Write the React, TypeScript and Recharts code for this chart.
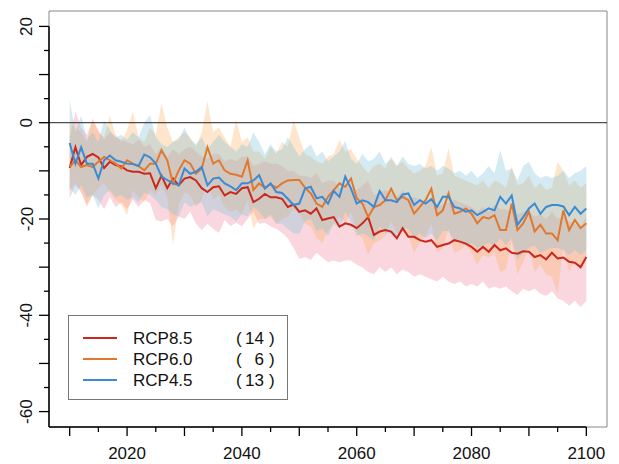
import React from 'react';
import { ComposedChart, Area, Line, XAxis, YAxis, ReferenceLine, ReferenceArea } from 'recharts';

const years = [
  2010, 2011, 2012, 2013, 2014, 2015, 2016, 2017, 2018, 2019,
  2020, 2021, 2022, 2023, 2024, 2025, 2026, 2027, 2028, 2029,
  2030, 2031, 2032, 2033, 2034, 2035, 2036, 2037, 2038, 2039,
  2040, 2041, 2042, 2043, 2044, 2045, 2046, 2047, 2048, 2049,
  2050, 2051, 2052, 2053, 2054, 2055, 2056, 2057, 2058, 2059,
  2060, 2061, 2062, 2063, 2064, 2065, 2066, 2067, 2068, 2069,
  2070, 2071, 2072, 2073, 2074, 2075, 2076, 2077, 2078, 2079,
  2080, 2081, 2082, 2083, 2084, 2085, 2086, 2087, 2088, 2089,
  2090, 2091, 2092, 2093, 2094, 2095, 2096, 2097, 2098, 2099,
  2100,
];

// RCP8.5
const rcp85Mean = [
  -9.4, -5.1, -8.8, -7.1, -6.5, -7.2, -9.4, -8.1, -8.8, -9.1,
  -9.9, -10.2, -10.2, -10.6, -10.5, -13.6, -11.0, -13.6, -11.6, -13.0,
  -11.6, -11.3, -12.0, -13.6, -14.4, -13.4, -13.2, -15.1, -14.4, -14.8,
  -13.6, -13.4, -16.5, -15.8, -14.8, -15.5, -15.5, -15.8, -17.5, -17.0,
  -18.5, -18.2, -18.9, -17.8, -20.2, -19.9, -19.6, -21.6, -20.9, -21.2,
  -21.9, -20.9, -19.6, -23.3, -22.6, -22.3, -22.6, -24.0, -21.9, -23.7,
  -23.7, -24.4, -24.7, -24.4, -25.8, -25.4, -25.1, -24.4, -24.7, -25.1,
  -25.8, -26.8, -25.8, -26.8, -25.4, -26.5, -26.1, -27.0, -27.2, -26.7,
  -26.8, -27.9, -27.5, -28.4, -27.0, -28.2, -28.0, -28.9, -29.1, -30.0,
  -27.9,
];
const rcp85High = [
  -3.0, 2.3, -1.0, -2.5, 0.5, -1.5, -3.5, -2.0, -3.0, -3.5,
  -4.0, -4.5, -3.5, -5.0, -4.5, -6.5, -5.0, -7.0, -5.5, -6.5,
  -5.5, -5.0, -6.0, -7.0, -7.5, -6.5, -6.5, -8.0, -7.5, -8.0,
  -7.0, -7.0, -9.0, -8.5, -8.0, -8.5, -8.5, -9.0, -10.0, -10.0,
  -11.0, -11.0, -11.5, -10.5, -12.5, -12.0, -12.0, -13.5, -13.0, -13.0,
  -14.0, -13.0, -12.0, -15.0, -14.5, -14.0, -14.5, -15.5, -14.0, -15.5,
  -15.5, -16.0, -16.5, -16.0, -17.5, -17.0, -16.5, -16.0, -16.5, -17.0,
  -17.5, -18.5, -17.5, -18.5, -17.0, -18.0, -18.0, -18.5, -19.0, -18.5,
  -18.5, -19.5, -19.0, -20.0, -18.5, -20.0, -19.5, -20.5, -21.0, -21.5,
  -19.5,
];
const rcp85Low = [
  -15.7, -13.0, -14.5, -17.0, -15.0, -16.0, -18.0, -15.5, -17.5, -16.5,
  -18.0, -16.0, -17.5, -16.0, -16.7, -20.2, -20.5, -20.0, -21.5, -19.5,
  -20.0, -18.5, -21.0, -22.3, -21.0, -22.0, -22.9, -20.2, -21.5, -20.8,
  -21.5, -20.0, -18.5, -21.0, -20.8, -21.5, -22.0, -22.9, -24.0, -26.0,
  -28.3, -27.9, -28.5, -27.0, -28.0, -29.0, -28.6, -29.0, -28.6, -28.6,
  -29.5, -30.0, -31.0, -31.5, -30.0, -31.0, -30.0, -31.5, -30.5, -31.0,
  -32.0, -31.5, -32.0, -32.5, -33.0, -32.0, -33.0, -33.5, -33.0, -34.0,
  -33.5, -34.0, -33.0, -34.5, -34.0, -34.5, -34.0, -35.0, -35.8, -34.5,
  -35.0, -34.5, -35.5, -36.0, -35.0, -36.5, -37.0, -38.0, -37.0, -38.3,
  -37.0,
];

// RCP6.0
const rcp60Mean = [
  -9.2, -7.8, -9.2, -8.8, -9.2, -8.1, -7.1, -7.8, -8.5, -9.5,
  -7.8, -8.5, -9.0, -9.9, -8.5, -8.5, -5.7, -7.8, -12.6, -9.9,
  -7.8, -8.5, -10.6, -9.5, -5.1, -8.5, -7.8, -9.9, -10.6, -10.8,
  -11.2, -7.8, -14.0, -12.6, -13.5, -12.8, -13.5, -12.6, -12.0, -11.9,
  -11.9, -13.5, -14.7, -16.8, -17.5, -15.4, -14.0, -12.6, -13.3, -11.6,
  -15.7, -16.8, -19.6, -17.5, -17.1, -16.1, -13.7, -16.1, -15.4, -16.1,
  -18.9, -17.5, -16.1, -13.7, -19.2, -18.2, -14.7, -18.9, -18.5, -17.8,
  -18.9, -20.9, -19.6, -19.9, -19.2, -22.3, -22.3, -16.8, -22.3, -20.9,
  -18.5, -22.6, -21.2, -23.0, -23.0, -24.4, -18.2, -22.3, -20.2, -21.9,
  -20.9,
];
const rcp60High = [
  0.0, -1.0, -2.0, -4.0, 1.0, -2.0, -3.0, 1.5, -2.5, -4.0,
  -1.5, 2.2, -3.0, -4.0, -1.0, -2.5, 4.0, -1.0, -4.0, -3.0,
  -2.0, -3.0, -5.0, -2.0, 4.4, -2.0, -1.0, -3.0, -5.0, 0.5,
  -4.0, -3.0, -6.0, -6.0, -7.5, -5.0, -6.5, -4.0, -5.0, 0.5,
  -3.0, -6.5, -7.0, -8.0, -8.5, -7.0, -6.5, -3.6, -6.0, -5.5,
  -7.5, -9.0, -10.5, -9.0, -8.5, -9.5, -7.0, -9.0, -8.0, -9.5,
  -10.5, -10.0, -9.0, -5.0, -11.0, -10.5, -5.3, -11.0, -11.5, -12.0,
  -12.5, -13.0, -12.0, -13.5, -12.0, -12.5, -13.5, -9.0, -13.0, -12.5,
  -11.0, -13.5, -12.5, -14.0, -13.5, -8.1, -10.0, -13.0, -12.0, -13.5,
  -12.5,
];
const rcp60Low = [
  -14.0, -12.5, -14.2, -17.5, -15.0, -13.5, -12.5, -14.5, -16.0, -17.0,
  -19.2, -14.0, -15.5, -16.5, -14.0, -15.0, -13.0, -15.5, -25.4, -17.0,
  -14.5, -15.0, -17.5, -16.0, -12.0, -16.0, -15.0, -17.5, -18.5, -18.0,
  -19.0, -16.0, -22.0, -20.0, -20.0, -19.5, -21.0, -20.0, -19.5, -18.0,
  -19.0, -21.0, -21.5, -24.0, -25.0, -22.5, -21.0, -19.5, -21.0, -18.5,
  -23.0, -24.0, -27.5, -25.0, -24.5, -23.5, -20.5, -23.0, -22.5, -23.5,
  -27.0, -25.0, -23.5, -21.0, -27.0, -26.0, -22.0, -27.0, -26.5, -25.5,
  -27.0, -29.5, -27.5, -28.0, -27.0, -31.0, -30.5, -24.5, -31.5, -29.0,
  -26.0, -31.0, -29.5, -31.5, -32.0, -35.5, -26.0, -31.0, -28.5, -30.5,
  -29.0,
];

// RCP4.5
const rcp45Mean = [
  -4.2, -8.5, -5.1, -8.5, -8.5, -11.6, -7.8, -6.8, -7.8, -8.1,
  -8.5, -8.6, -9.0, -6.6, -7.2, -8.5, -11.2, -11.9, -12.6, -13.0,
  -9.5, -10.6, -10.2, -9.2, -13.0, -11.6, -11.4, -12.6, -13.2, -14.0,
  -12.6, -12.6, -12.0, -10.9, -13.7, -12.6, -14.4, -14.6, -15.8, -17.1,
  -16.8, -13.7, -13.3, -15.7, -15.4, -16.8, -14.2, -15.4, -11.2, -13.7,
  -16.8, -16.1, -16.5, -17.5, -14.2, -16.1, -16.1, -16.5, -14.9, -14.7,
  -17.1, -16.1, -16.8, -15.9, -17.5, -15.4, -15.4, -17.5, -17.8, -18.5,
  -18.2, -19.2, -18.5, -17.8, -18.2, -15.4, -16.8, -15.1, -21.2, -19.6,
  -17.8, -16.8, -18.9, -17.5, -17.1, -17.1, -17.4, -19.2, -17.5, -18.9,
  -17.8,
];
const rcp45High = [
  4.7, -2.0, 1.5, -3.5, -2.0, -4.0, 0.5, -1.5, -3.0, -2.5,
  -3.5, -2.0, -3.0, 0.0, 1.6, -3.0, -4.5, -5.0, -4.0, -3.5,
  -1.0, -3.5, -4.5, -3.0, -5.5, -4.0, -2.5, -4.0, -5.0, -6.0,
  -4.5, -5.0, -2.0, -4.0, -6.5, -4.5, -6.0, -5.5, -3.0, -5.0,
  -7.0, -5.5, -4.5, -7.0, -6.0, -8.0, -7.0, -6.0, -3.8, -7.5,
  -8.5, -6.5, -8.0, -7.5, -6.0, -8.5, -7.5, -9.0, -7.0, -8.5,
  -9.0, -8.5, -9.5, -9.0, -10.0, -9.0, -9.5, -10.5, -10.0, -11.0,
  -10.0, -11.5, -10.5, -9.0, -10.5, -5.7, -10.0, -9.5, -12.0, -9.0,
  -8.1, -10.5, -11.5, -11.0, -11.5, -11.0, -10.0, -11.5, -10.5, -10.0,
  -9.0,
];
const rcp45Low = [
  -13.5, -15.0, -13.0, -15.5, -15.0, -17.8, -15.0, -14.0, -15.5, -15.0,
  -16.0, -15.5, -16.5, -14.5, -15.0, -16.0, -17.5, -18.0, -19.0, -19.5,
  -16.5, -17.5, -17.0, -16.5, -19.5, -18.0, -18.5, -19.0, -19.5, -20.5,
  -19.0, -19.5, -17.5, -18.5, -20.0, -19.0, -21.0, -21.0, -22.0, -23.0,
  -23.0, -20.5, -20.0, -22.5, -22.0, -23.5, -21.0, -22.0, -18.5, -20.5,
  -23.5, -23.0, -23.5, -24.5, -21.5, -23.0, -23.0, -23.5, -22.0, -22.0,
  -24.0, -23.0, -24.0, -23.0, -24.5, -22.5, -22.5, -24.5, -25.0, -25.5,
  -25.0, -26.0, -25.5, -25.0, -25.5, -24.0, -25.5, -24.0, -28.5, -27.0,
  -26.0, -25.5, -27.0, -26.5, -26.0, -26.0, -26.5, -27.5, -26.5, -27.5,
  -26.5,
];

const seriesNames = ['RCP8.5', 'RCP6.0', 'RCP4.5'];
const modelCounts = [14, 6, 13];
const lineColors = ['#C9281C', '#E0782E', '#3B8BD4'];
const bandColors = ['#F08CA0', '#FBB060', '#7EC3DA'];

const xTicks = [2010, 2015, 2020, 2025, 2030, 2035, 2040, 2045, 2050, 2055, 2060, 2065, 2070, 2075, 2080, 2085, 2090, 2095, 2100];
const yTicks = [-60, -55, -50, -45, -40, -35, -30, -25, -20, -15, -10, -5, 0, 5, 10, 15, 20];
const xDomain: [number, number] = [2006.4, 2103.6];
const yDomain: [number, number] = [-63.2, 23.2];

const data = years.map((year, i) => ({
  year,
  r85: rcp85Mean[i],
  r60: rcp60Mean[i],
  r45: rcp45Mean[i],
  r85band: [rcp85Low[i], rcp85High[i]],
  r60band: [rcp60Low[i], rcp60High[i]],
  r45band: [rcp45Low[i], rcp45High[i]],
}));

const FONT = '"Liberation Sans", Arial, Helvetica, sans-serif';

const XTick = (props: any) => {
  const { x, y, payload } = props;
  const v = payload.value as number;
  const major = v % 10 === 0;
  return (
    <g>
      <line x1={x} x2={x} y1={y} y2={y + (major ? 9 : 5)} stroke="#000" strokeWidth={1.3} />
      {v % 20 === 0 && (
        <text x={x} y={y + 32} textAnchor="middle" fontSize={17} fontFamily={FONT} fill="#111">
          {v}
        </text>
      )}
    </g>
  );
};

const YTick = (props: any) => {
  const { x, y, payload } = props;
  const v = payload.value as number;
  const major = v % 10 === 0;
  const tx = x - 22;
  return (
    <g>
      <line x1={x} x2={x - (major ? 10 : 5)} y1={y} y2={y} stroke="#000" strokeWidth={1.3} />
      {v % 20 === 0 && (
        <text
          x={tx}
          y={y}
          transform={`rotate(-90, ${tx}, ${y})`}
          textAnchor="middle"
          dominantBaseline="central"
          fontSize={17}
          fontFamily={FONT}
          fill="#111"
        >
          {v}
        </text>
      )}
    </g>
  );
};

const LegendBox = () => {
  const rows = [338, 359, 380];
  return (
    <svg width={619} height={464} style={{ position: 'absolute', left: 0, top: 0, pointerEvents: 'none' }}>
      <rect x={68.5} y={315.5} width={219} height={84} fill="#fff" stroke="#777" strokeWidth={1} />
      {seriesNames.map((name, i) => (
        <g key={name}>
          <line x1={83} x2={117} y1={rows[i]} y2={rows[i]} stroke={lineColors[i]} strokeWidth={2} />
          <text x={133} y={rows[i] + 6} fontSize={17} fontFamily={FONT} fill="#111">
            {name}
          </text>
          <text x={236} y={rows[i] + 6} fontSize={17} fontFamily={FONT} fill="#111">(</text>
          <text x={264} y={rows[i] + 6} fontSize={17} fontFamily={FONT} fill="#111" textAnchor="end">
            {modelCounts[i]}
          </text>
          <text x={269} y={rows[i] + 6} fontSize={17} fontFamily={FONT} fill="#111">)</text>
        </g>
      ))}
    </svg>
  );
};

export default function App() {
  return (
    <div style={{ position: 'absolute', left: 0, top: 0, width: 619, height: 464, background: '#fff' }}>
      <ComposedChart width={619} height={464} data={data} margin={{ top: 11, right: 12, bottom: 0, left: 0 }}>
        <XAxis
          dataKey="year"
          type="number"
          domain={xDomain}
          allowDataOverflow
          ticks={xTicks}
          interval={0}
          axisLine={false}
          tickLine={false}
          tickSize={0}
          tickMargin={0}
          height={37}
          tick={<XTick />}
        />
        <YAxis
          type="number"
          domain={yDomain}
          allowDataOverflow
          ticks={yTicks}
          interval={0}
          axisLine={false}
          tickLine={false}
          tickSize={0}
          tickMargin={0}
          width={49}
          tick={<YTick />}
        />
        <Area dataKey="r85band" type="linear" stroke="none" fill={bandColors[0]} fillOpacity={0.35} isAnimationActive={false} dot={false} activeDot={false} />
        <Area dataKey="r60band" type="linear" stroke="none" fill={bandColors[1]} fillOpacity={0.33} isAnimationActive={false} dot={false} activeDot={false} />
        <Area dataKey="r45band" type="linear" stroke="none" fill={bandColors[2]} fillOpacity={0.33} isAnimationActive={false} dot={false} activeDot={false} />
        <ReferenceLine y={0} stroke="#222" strokeWidth={1} />
        <Line dataKey="r85" type="linear" stroke={lineColors[0]} strokeWidth={2} dot={false} activeDot={false} isAnimationActive={false} />
        <Line dataKey="r60" type="linear" stroke={lineColors[1]} strokeWidth={2} dot={false} activeDot={false} isAnimationActive={false} />
        <Line dataKey="r45" type="linear" stroke={lineColors[2]} strokeWidth={2} dot={false} activeDot={false} isAnimationActive={false} />
        <ReferenceArea x1={xDomain[0]} x2={xDomain[1]} y1={yDomain[0]} y2={yDomain[1]} fill="none" stroke="#888" strokeWidth={1} ifOverflow="visible" />
        <ReferenceLine segment={[{ x: xDomain[0], y: yDomain[0] }, { x: xDomain[0], y: 20 }]} stroke="#000" strokeWidth={1.5} ifOverflow="visible" />
        <ReferenceLine segment={[{ x: xDomain[0], y: yDomain[0] }, { x: 2100, y: yDomain[0] }]} stroke="#000" strokeWidth={1.5} ifOverflow="visible" />
      </ComposedChart>
      <LegendBox />
    </div>
  );
}
